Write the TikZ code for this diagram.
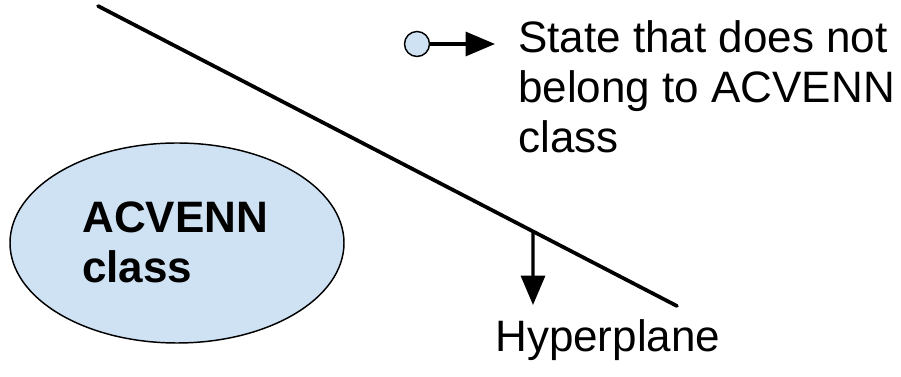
\documentclass[tikz,border=0pt]{standalone}
\usepackage{fontspec}
\setmainfont{Liberation Sans}
\usetikzlibrary{arrows.meta,shapes.geometric,calc}
\definecolor{classfill}{HTML}{CFE2F3}
\tikzset{
  plane/.style={line width=2.8pt, line cap=round},
  pointer/.style={line width=2.3pt, -{Triangle[length=22pt,width=18pt]}},
  label/.style={inner sep=0pt, align=left, font=\fontsize{33}{37.5}\selectfont},
  region/.style={draw=black, line width=1.1pt, fill=classfill},
}
\begin{document}
\begin{tikzpicture}[x=0.75pt,y=-0.75pt]
  \useasboundingbox (0,0) rectangle (901,377);

  % the class region
  \node[region, ellipse, minimum width=334*0.75pt, minimum height=200*0.75pt, inner sep=0pt] (cls) at (177,243) {};
  \node[label, anchor=base west, font=\bfseries\fontsize{33}{38}\selectfont] (clstext) at (82,283) {ACVENN\\class};

  % the separating hyperplane
  \coordinate (hA) at (98,6);
  \coordinate (hB) at (677,306);
  \draw[plane] (hA) -- (hB);
  \coordinate (hfoot) at ($(hA)!0.7513!(hB)$);
  \coordinate (htip) at (533,305);
  \draw[pointer] (hfoot) -- (htip);
  \node[label, anchor=base west] (hlabel) at (495,352) {Hyperplane};

  % a state outside the class
  \node[draw=black, line width=1.1pt, fill=classfill, circle, minimum size=25*0.75pt, inner sep=0pt] (state) at (417,44) {};
  \coordinate (stip) at (495,44);
  \draw[pointer] (state) -- (stip);
  \node[label, anchor=base west] (slabel) at (518,153) {State that does not\\belong to ACVENN\\class};
\end{tikzpicture}
\end{document}
